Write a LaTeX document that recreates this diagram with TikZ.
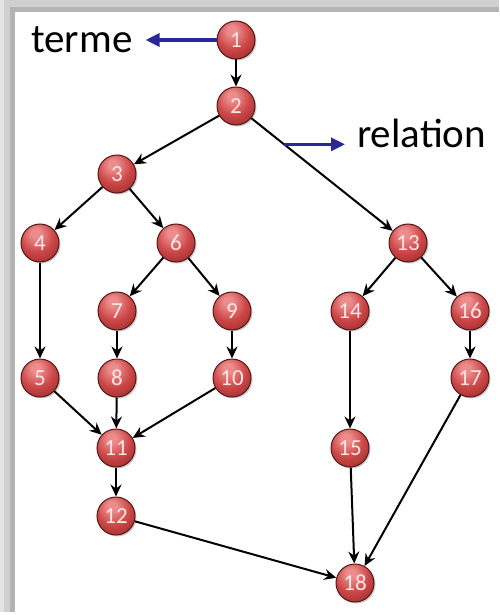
\documentclass[tikz,border=0pt]{standalone}
\usepackage{fontspec}
\setmainfont{Carlito}
\usetikzlibrary{arrows.meta,calc,shadows}
\definecolor{ballhi}{RGB}{236,140,140}
\definecolor{ballred}{RGB}{204,70,70}
\definecolor{balldark}{RGB}{128,32,32}
\definecolor{ballrim}{RGB}{85,22,22}
\definecolor{flowblue}{RGB}{40,40,150}
\definecolor{framegrayA}{RGB}{228,228,228}
\definecolor{framegrayB}{RGB}{208,208,208}
\definecolor{framegrayC}{RGB}{180,180,180}
\pgfdeclareradialshading{redball}{\pgfpoint{-6bp}{14bp}}{%
  color(0bp)=(ballhi); color(6bp)=(ballhi); color(22bp)=(ballred);
  color(46bp)=(balldark); color(70bp)=(balldark)}
\tikzset{
  gball/.style={circle, shading=redball, draw=ballrim,
                line width=1pt, minimum size=38pt, inner sep=0pt,
                font=\fontsize{23}{23}\selectfont, text=white!90!red,
                drop shadow={shadow xshift=1.5pt, shadow yshift=-1.5pt,
                             fill=black, opacity=0.2}},
  gedge/.style={-{Stealth[length=12pt, width=11pt, inset=4pt]}, line width=2pt, black},
  gflow/.style={-{Triangle[length=14pt, width=13pt]}, line width=3.2pt, flowblue},
  glabel/.style={inner sep=0pt, font=\fontsize{41}{49}\selectfont},
}
\begin{document}
\begin{tikzpicture}[x=1pt, y=1pt]
  \useasboundingbox (0,0) rectangle (499,-615);
  \fill[white] (0,0) rectangle (499,-615);

  % ---- the grey slide frame, top and left --------------------------------
  \fill[framegrayB] (0,0) rectangle (499,-7);
  \fill[framegrayC] (10,-7) rectangle (499,-12);
  \fill[framegrayA] (0,0) rectangle (4,-612);
  \fill[framegrayB] (4,-4) rectangle (10,-612);
  \fill[framegrayC] (10,-7) rectangle (15,-612);

  % ---- the graph ----------------------------------------------------------
  \foreach \n/\x/\y in {1/236/40, 2/236/106, 3/117/174,
                        4/40/243, 6/176/243, 13/408/243,
                        7/117/311, 9/232/311, 14/350/311, 16/470/311,
                        5/40/378, 8/117/378, 10/232/378, 17/470/378,
                        11/116/448, 15/350/448, 12/116/516, 18/355/583}
    \node[gball] (n\n) at (\x,-\y) {\n};

  \foreach \a/\b in {1/2, 2/3, 2/13, 3/4, 3/6, 6/7, 6/9, 4/5, 7/8, 9/10,
                     5/11, 8/11, 10/11, 11/12, 12/18,
                     13/14, 13/16, 16/17, 14/15, 15/18, 17/18}
    \draw[gedge] (n\a) -- (n\b);

  % ---- what the picture names ---------------------------------------------
  \node[glabel, anchor=base west] (terme) at (31,-53) {terme};
  \node[glabel, anchor=base west] (relation) at (357,-147) {relation};

  \coordinate (r0) at ($(n2)!0.28!(n13)$);
  \draw[gflow, shorten >=13pt] (n1.west) -- (terme.east |- n1.west);
  \draw[gflow, shorten >=12pt] (r0) -- (relation.west |- r0);
\end{tikzpicture}
\end{document}
